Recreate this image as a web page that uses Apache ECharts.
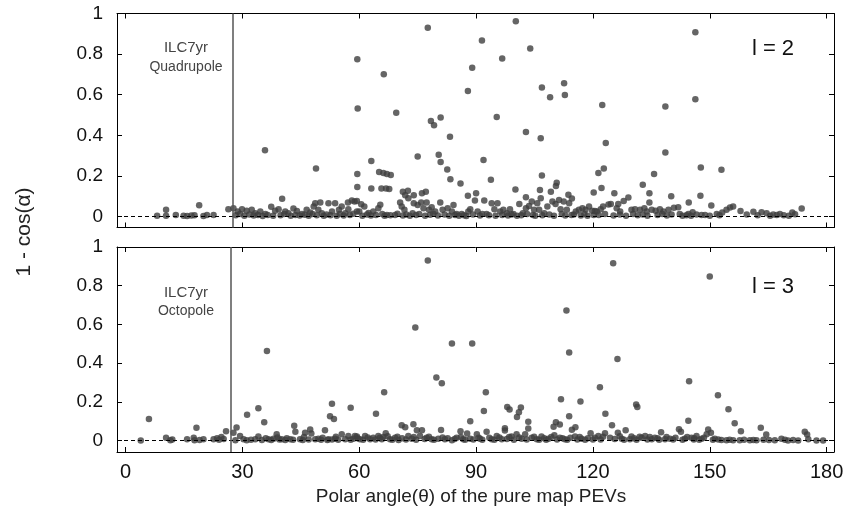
<!DOCTYPE html>
<html>
<head>
<meta charset="utf-8">
<script src="https://cdn.jsdelivr.net/npm/echarts@6/dist/echarts.min.js"></script>
<style>
  html, body { margin: 0; padding: 0; background: #fff; }
  #chart { width: 848px; height: 517px; }
</style>
</head>
<body>
<div id="chart"></div>
<script>
const xTicks = [0, 30, 60, 90, 120, 150, 180];
const yTicks = [0, 0.2, 0.4, 0.6, 0.8, 1];

// l = 2 panel: points clearly above the zero band
const quadPeaks = [
  [35.8,0.327],[48.9,0.236],[59.5,0.775],[59.6,0.532],[59.5,0.209],[59.5,0.145],[40.2,0.087],
  [77.6,0.930],[100.2,0.962],[91.5,0.867],[103.9,0.828],[96.7,0.778],[89.0,0.733],[66.3,0.701],
  [112.6,0.657],[87.9,0.618],[106.9,0.636],[109.0,0.588],[112.8,0.598],[69.5,0.511],[78.4,0.471],
  [79.2,0.450],[80.9,0.488],[95.3,0.490],[83.3,0.393],[102.8,0.416],[106.6,0.386],[63.1,0.274],
  [75.0,0.296],[80.4,0.304],[80.9,0.268],[82.6,0.232],[83.4,0.184],[86.0,0.163],[91.9,0.279],
  [93.8,0.181],[121.4,0.214],[106.9,0.202],[65.1,0.219],[66.2,0.214],[67.1,0.210],[68.1,0.204],
  [65.7,0.138],[66.9,0.138],[67.7,0.136],[63.1,0.138],[110.7,0.167],[110.5,0.151],[109.2,0.122],
  [106.4,0.131],[100.1,0.133],[90.0,0.115],[87.9,0.102],[71.2,0.122],[72.5,0.127],[71.8,0.105],
  [74.0,0.105],[76.1,0.115],[77.1,0.122],[120.2,0.118],[113.7,0.107],[114.6,0.089],[102.8,0.095],
  [146.3,0.908],[146.3,0.578],[122.4,0.549],[138.6,0.542],[123.3,0.362],[138.6,0.316],[122.8,0.237],
  [147.7,0.242],[153.0,0.230],[135.7,0.209],[132.8,0.156],[122.2,0.140],[125.5,0.115],[134.5,0.115],
  [140.1,0.100],[147.6,0.102],[144.6,0.069],[150.4,0.054],[173.6,0.039]
];

// l = 2 panel: crowded band near zero
const quadBand = [
  [8.1,0.004],[10.4,0.004],[10.4,0.033],[12.9,0.008],[14.9,0.004],[15.8,0.003],[16.9,0.005],
  [17.7,0.006],[18.9,0.056],[20.0,0.003],[20.9,0.007],[22.6,0.008],[26.4,0.036],[27.7,0.041],
  [28.8,0.025],[29.9,0.036],[31.1,0.028],[32.4,0.033],[33.3,0.016],[34.6,0.025],[35.9,0.013],
  [37.4,0.048],[38.4,0.028],[39.3,0.036],[41.0,0.025],[41.8,0.016],[43.1,0.039],[44.0,0.027],
  [45.3,0.013],[46.5,0.033],[47.4,0.020],[48.3,0.049],[48.7,0.066],[49.5,0.033],[50.0,0.069],
  [50.4,0.016],[52.1,0.066],[53.0,0.025],[53.8,0.066],[54.8,0.033],[55.5,0.049],[56.4,0.016],
  [57.1,0.069],[58.1,0.079],[58.8,0.074],[57.2,0.036],[59.4,0.025],
  [28.3,0.006],[29.4,0.012],[30.5,0.004],[31.8,0.010],[32.9,0.005],[34.0,0.008],[35.2,0.003],
  [36.5,0.007],[37.9,0.004],[39.8,0.006],[40.7,0.012],[42.4,0.004],[43.6,0.008],[44.7,0.005],
  [46.0,0.009],[47.0,0.004],[48.0,0.012],[49.1,0.006],[50.9,0.004],[51.6,0.010],[52.6,0.006],
  [54.2,0.004],[55.0,0.012],[56.0,0.005],[57.6,0.008],[58.5,0.014],
  [59.4,0.077],[60.5,0.061],[61.3,0.049],[60.0,0.025],[62.4,0.017],[63.6,0.025],[64.3,0.008],
  [64.9,0.041],[65.4,0.058],[67.1,0.008],[69.2,0.008],[70.5,0.069],[70.9,0.049],[71.6,0.033],
  [72.6,0.090],[73.7,0.016],[74.0,0.066],[75.0,0.057],[75.9,0.069],[76.5,0.041],[77.3,0.069],
  [77.9,0.033],[78.6,0.046],[79.5,0.025],[80.8,0.069],[81.4,0.033],[82.7,0.041],[83.8,0.025],
  [84.2,0.057],[85.0,0.013],[86.3,0.013],[88.0,0.025],[88.5,0.036],[89.7,0.079],[90.4,0.025],
  [92.1,0.079],[92.7,0.013],[94.0,0.066],[94.7,0.036],[95.5,0.066],[96.2,0.025],[97.0,0.033],
  [97.9,0.016],[98.7,0.036],[99.6,0.013],[101.1,0.062],[102.0,0.016],[102.8,0.041],[103.6,0.052],
  [104.3,0.074],[104.9,0.033],[105.7,0.066],[106.2,0.033],[106.6,0.090],[107.5,0.016],[108.3,0.049],
  [109.6,0.074],[110.4,0.062],[111.3,0.082],[111.7,0.036],[112.5,0.074],[113.3,0.033],[113.9,0.066],
  [115.6,0.025],[116.4,0.033],[117.3,0.041],[118.1,0.033],[119.0,0.049],[119.8,0.028],[121.0,0.025],
  [60.8,0.004],[62.0,0.010],[63.0,0.005],[65.9,0.012],[66.5,0.004],[68.0,0.006],[69.8,0.014],
  [71.2,0.005],[72.1,0.010],[73.0,0.004],[74.6,0.008],[75.4,0.012],[76.9,0.004],[78.2,0.009],
  [79.0,0.014],[80.2,0.005],[81.9,0.010],[83.1,0.004],[84.6,0.008],[85.6,0.004],[86.9,0.006],
  [87.5,0.003],[89.2,0.010],[91.0,0.005],[91.6,0.012],[93.3,0.006],[95.0,0.004],[96.7,0.008],
  [98.2,0.005],[99.1,0.010],[100.5,0.004],[101.6,0.006],[103.1,0.012],[104.6,0.008],[105.2,0.004],
  [107.0,0.006],[108.8,0.010],[110.0,0.004],[112.0,0.012],[112.9,0.005],[114.5,0.008],[115.1,0.010],
  [116.9,0.005],[117.8,0.012],[118.6,0.004],[120.2,0.008],
  [120.5,0.027],[122.0,0.036],[122.6,0.049],[124.0,0.059],[124.6,0.062],[126.5,0.062],[127.9,0.077],
  [129.1,0.094],[126.1,0.041],[127.0,0.025],[129.9,0.033],[130.8,0.036],[132.1,0.033],[133.2,0.041],
  [134.5,0.069],[133.8,0.025],[135.1,0.033],[136.1,0.028],[137.2,0.036],[138.1,0.025],[139.4,0.033],
  [140.8,0.043],[141.9,0.046],[142.3,0.013],[144.5,0.013],[145.6,0.021],[146.6,0.010],[147.9,0.007],
  [151.8,0.013],[153.2,0.020],[154.3,0.033],[155.2,0.044],[156.0,0.049],[157.9,0.027],[161.2,0.023],
  [163.3,0.021],[164.6,0.016],[166.3,0.010],[168.0,0.013],[171.2,0.020],[171.9,0.011],
  [121.5,0.008],[123.1,0.012],[125.3,0.005],[126.9,0.010],[128.5,0.004],[130.3,0.012],[131.5,0.006],
  [132.8,0.010],[134.0,0.004],[136.6,0.008],[137.8,0.012],[139.0,0.005],[140.2,0.010],[143.0,0.004],
  [144.0,0.006],[145.2,0.004],[148.8,0.008],[150.0,0.004],[152.5,0.006],[159.5,0.010],[162.3,0.006],
  [165.5,0.004],[167.2,0.008],[169.0,0.006],[170.3,0.004]
];

// l = 3 panel: points clearly above the zero band
const octPeaks = [
  [6.0,0.112],[36.3,0.463],[31.2,0.134],[34.1,0.167],[35.6,0.095],[53.0,0.190],[52.5,0.126],
  [53.5,0.112],[57.8,0.169],[18.2,0.066],[25.8,0.048],[28.5,0.067],[43.3,0.076],[47.4,0.057],
  [51.2,0.054],[77.6,0.930],[74.4,0.584],[113.2,0.672],[83.8,0.501],[89.0,0.501],[113.9,0.455],
  [79.8,0.326],[81.2,0.296],[92.5,0.250],[121.8,0.275],[66.4,0.250],[64.3,0.138],[111.8,0.214],
  [116.8,0.202],[92.0,0.153],[98.0,0.174],[98.6,0.160],[101.5,0.171],[101.0,0.146],[100.5,0.122],
  [88.5,0.100],[70.9,0.079],[71.8,0.069],[73.9,0.084],[74.8,0.053],[76.1,0.053],[81.0,0.055],
  [86.0,0.048],[87.7,0.036],[103.4,0.097],[103.4,0.062],[97.4,0.064],[97.4,0.052],[110.5,0.095],
  [111.5,0.083],[109.9,0.071],[113.9,0.126],[114.6,0.056],[115.5,0.069],[125.2,0.916],[150.0,0.848],
  [126.3,0.422],[144.7,0.307],[152.1,0.234],[154.8,0.162],[123.2,0.138],[131.1,0.186],[131.4,0.174],
  [144.5,0.102],[156.4,0.090],[158.0,0.048],[163.1,0.066],[164.5,0.031],[124.9,0.079],[128.4,0.053]
];

// l = 3 panel: crowded band near zero
const octBand = [
  [3.9,0.0],[10.4,0.015],[11.5,0.002],[15.8,0.007],[17.5,0.015],[17.7,0.002],[20.0,0.007],
  [22.6,0.007],[23.5,0.012],[24.6,0.019],[27.7,0.041],[28.2,0.002],[29.4,0.024],[30.3,0.007],
  [31.1,0.002],[33.3,0.007],[34.1,0.021],[35.0,0.003],[36.7,0.007],[38.0,0.010],[38.8,0.033],
  [40.1,0.007],[41.4,0.012],[42.3,0.007],[43.6,0.045],[44.8,0.007],[46.1,0.041],[47.7,0.036],
  [48.7,0.007],[49.5,0.010],[52.1,0.007],[53.8,0.010],[55.5,0.033],[56.4,0.007],[57.2,0.024],
  [58.5,0.010],[59.4,0.021],
  [12.0,0.006],[19.0,0.003],[24.0,0.004],[25.2,0.008],[32.2,0.004],[37.4,0.003],[39.5,0.005],
  [41.0,0.003],[43.0,0.004],[45.5,0.003],[47.0,0.005],[50.2,0.004],[51.8,0.003],[53.0,0.005],
  [54.6,0.004],[57.8,0.004],[36.0,0.012],[39.0,0.016],[45.8,0.018],[50.6,0.014],[54.0,0.020],
  [58.9,0.024],[60.2,0.007],[61.5,0.024],[62.8,0.007],[63.6,0.015],[64.9,0.024],[66.8,0.038],
  [65.8,0.007],[67.9,0.007],[69.2,0.014],[70.1,0.003],[72.6,0.024],[73.5,0.010],[75.6,0.024],
  [77.3,0.015],[78.6,0.007],[80.3,0.010],[82.0,0.007],[83.8,0.002],[85.0,0.014],[86.7,0.007],
  [88.5,0.010],[90.2,0.033],[91.0,0.010],[92.7,0.046],[94.0,0.007],[95.3,0.024],[96.6,0.007],
  [99.1,0.021],[100.4,0.033],[101.7,0.010],[102.6,0.033],[104.3,0.015],[105.6,0.007],[106.8,0.021],
  [108.6,0.010],[110.1,0.028],[111.5,0.015],[112.8,0.007],[115.4,0.021],[117.1,0.010],[119.4,0.038],
  [120.5,0.015],[121.4,0.024],
  [59.6,0.012],[61.0,0.004],[62.2,0.016],[64.2,0.005],[65.3,0.014],[66.2,0.018],[67.3,0.022],
  [68.5,0.004],[69.8,0.020],[71.0,0.012],[72.0,0.005],[74.0,0.018],[74.6,0.004],[76.8,0.008],
  [77.9,0.020],[79.2,0.004],[81.4,0.016],[82.7,0.012],[84.5,0.008],[86.1,0.018],[87.2,0.004],
  [89.3,0.006],[90.7,0.015],[91.6,0.004],[93.4,0.014],[94.7,0.004],[96.0,0.016],[97.9,0.008],
  [98.5,0.018],[99.7,0.004],[101.1,0.016],[103.0,0.006],[104.9,0.020],[106.2,0.004],[107.5,0.012],
  [108.0,0.004],[109.3,0.018],[110.8,0.006],[112.2,0.012],[113.4,0.004],[114.2,0.014],[116.0,0.006],
  [116.6,0.018],[118.0,0.004],[118.7,0.012],[120.0,0.006],
  [123.1,0.038],[124.4,0.015],[126.4,0.041],[127.4,0.010],[129.5,0.007],[129.9,0.021],[132.5,0.015],
  [133.4,0.024],[135.1,0.007],[135.9,0.015],[137.5,0.043],[138.5,0.007],[139.8,0.010],[142.1,0.058],
  [142.6,0.045],[143.6,0.010],[145.3,0.015],[146.6,0.024],[147.9,0.010],[149.2,0.033],[149.6,0.057],
  [150.3,0.041],[151.3,0.010],[153.0,0.003],[154.3,0.002],[156.0,0.002],[157.7,0.002],[160.3,0.002],
  [162.0,0.002],[166.7,0.002],[168.4,0.010],[170.1,0.0],[172.7,0.0],[174.4,0.045],[175.0,0.031],
  [175.3,0.007],[177.4,0.0],[179.1,0.0],
  [122.0,0.006],[122.6,0.020],[125.6,0.008],[126.9,0.022],[128.0,0.004],[130.6,0.012],[131.2,0.004],
  [132.0,0.020],[134.0,0.006],[134.6,0.018],[136.6,0.012],[137.0,0.004],[138.9,0.018],[140.6,0.006],
  [141.2,0.014],[143.0,0.004],[144.2,0.018],[145.9,0.006],[146.0,0.012],[147.3,0.004],[148.5,0.014],
  [150.8,0.004],[152.2,0.006],[155.1,0.004],[158.8,0.004],[161.2,0.003],[163.8,0.004],[165.2,0.003],
  [169.3,0.004],[171.4,0.003]
];

const quadCut = 27.6;
const octCut = 27.0;

const sans = "'Liberation Sans', Arial, sans-serif";
const dot = "#3f3f3f";

function xAxis(grid, position, labels) {
  return {
    type: "value", gridIndex: grid, position, min: -2.2, max: 181.9,
    axisLine: { show: true, onZero: false, lineStyle: { color: "#000", width: 1 } },
    axisTick: { show: true, inside: true, length: 5, customValues: xTicks, lineStyle: { color: "#000" } },
    axisLabel: { show: labels, customValues: xTicks, margin: 10, fontSize: 20, fontFamily: sans, color: "#111" },
    splitLine: { show: false }
  };
}

function yAxis(grid, position, min, labels) {
  return {
    type: "value", gridIndex: grid, position, min, max: 1,
    axisLine: { show: true, onZero: false, lineStyle: { color: "#000", width: 1 } },
    axisTick: { show: true, inside: true, length: 5, customValues: yTicks, lineStyle: { color: "#000" } },
    axisLabel: { show: labels, customValues: yTicks, margin: 14, fontSize: 19, fontFamily: sans, color: "#111" },
    splitLine: { show: false }
  };
}

function guides(cut) {
  return {
    silent: true, symbol: "none", label: { show: false }, animation: false,
    data: [
      { yAxis: 0, lineStyle: { color: "#000", type: [4, 3], width: 1 } },
      { xAxis: cut, lineStyle: { color: "#555", type: "solid", width: 1.5 } }
    ]
  };
}

function scatter(xi, yi, data, cut) {
  return {
    type: "scatter", xAxisIndex: xi, yAxisIndex: yi, data, symbol: "circle", symbolSize: 6.5,
    itemStyle: { color: dot }, markLine: cut == null ? undefined : guides(cut), silent: true
  };
}

function label(text, x, y, size, color) {
  return {
    type: "text", x, y,
    style: { text, fontSize: size, fontFamily: sans, fill: color || "#444", textAlign: "center", textVerticalAlign: "middle" }
  };
}

const chart = echarts.init(document.getElementById("chart"), null, { renderer: "canvas" });
chart.setOption({
  animation: false,
  backgroundColor: "#fff",
  grid: [
    { left: 117, top: 13.5, width: 717, height: 214 },
    { left: 117, top: 247, width: 717, height: 205 }
  ],
  xAxis: [xAxis(0, "bottom", false), xAxis(0, "top", false), xAxis(1, "bottom", true), xAxis(1, "top", false)],
  yAxis: [yAxis(0, "left", -0.054, true), yAxis(0, "right", -0.054, false), yAxis(1, "left", -0.059, true), yAxis(1, "right", -0.059, false)],
  series: [
    scatter(0, 0, quadBand, quadCut),
    scatter(0, 0, quadPeaks, null),
    scatter(2, 2, octBand, octCut),
    scatter(2, 2, octPeaks, null)
  ],
  graphic: [
    label("ILC7yr", 186, 47.5, 15),
    label("Quadrupole", 186, 67, 14),
    label("l = 2", 773, 49, 22, "#111"),
    label("ILC7yr", 186, 292.5, 15),
    label("Octopole", 186, 311, 14),
    label("l = 3", 773, 287, 22, "#111"),
    { type: "text", x: 24, y: 232, rotation: Math.PI / 2,
      style: { text: "1 - cos(α)", fontSize: 21, fontFamily: sans, fill: "#222", textAlign: "center", textVerticalAlign: "middle" } },
    label("Polar angle(θ) of the pure map PEVs", 471, 497, 19, "#222")
  ]
});
</script>
</body>
</html>
